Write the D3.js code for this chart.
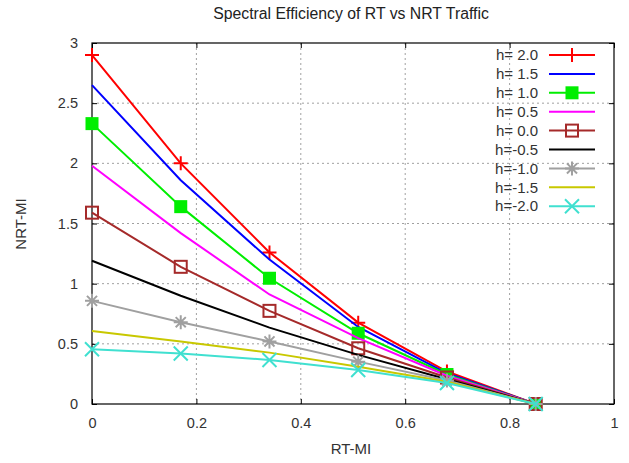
<!DOCTYPE html>
<html>
<head>
<meta charset="utf-8">
<script src="https://cdn.jsdelivr.net/npm/d3@7"></script>
<style>
  body { margin: 0; background: #fff; }
  text { font-family: "Liberation Sans", Arial, sans-serif; }
</style>
</head>
<body>
<div id="chart"></div>
<script>
// RT-MI sample points
const rtMI = [0, 0.17, 0.34, 0.51, 0.68, 0.85];

// NRT-MI per h value
const hLabels = ["h= 2.0", "h= 1.5", "h= 1.0", "h= 0.5", "h= 0.0", "h=-0.5", "h=-1.0", "h=-1.5", "h=-2.0"];
const h20 = [2.90, 2.00, 1.26, 0.676, 0.27, 0];
const h15 = [2.65, 1.86, 1.20, 0.64, 0.255, 0];
const h10 = [2.33, 1.64, 1.045, 0.588, 0.245, 0];
const h05 = [1.98, 1.42, 0.91, 0.547, 0.235, 0];
const h00 = [1.59, 1.14, 0.774, 0.463, 0.22, 0];
const hm05 = [1.19, 0.90, 0.635, 0.408, 0.205, 0];
const hm10 = [0.857, 0.68, 0.52, 0.352, 0.195, 0];
const hm15 = [0.607, 0.52, 0.427, 0.31, 0.185, 0];
const hm20 = [0.455, 0.42, 0.366, 0.283, 0.175, 0];

const colors = ["#ff0000", "#0000ff", "#00ee00", "#ff00ff", "#a52a2a", "#000000", "#a0a0a0", "#c8c800", "#40e0d0"];
const markers = ["plus", null, "fsquare", null, "square", null, "star", null, "cross"];

const xTicks = [0, 0.2, 0.4, 0.6, 0.8, 1];
const yTicks = [0, 0.5, 1, 1.5, 2, 2.5, 3];

const series = [h20, h15, h10, h05, h00, hm05, hm10, hm15, hm20].map((vals, i) => ({
  label: hLabels[i], color: colors[i], marker: markers[i],
  points: vals.map((v, j) => ({ x: rtMI[j], y: v }))
}));

const W = 629, H = 463;
const margin = { top: 43, right: 15, bottom: 59, left: 92 };
const width = W - margin.left - margin.right;
const height = H - margin.top - margin.bottom;

const svg = d3.select("#chart").append("svg")
  .attr("width", W).attr("height", H);

const g = svg.append("g")
  .attr("transform", "translate(" + margin.left + "," + margin.top + ")");

const x = d3.scaleLinear().domain([0, 1]).range([0, width]);
const y = d3.scaleLinear().domain([0, 3]).range([height, 0]);

// grid
g.selectAll(".vgrid").data(xTicks.slice(1, -1)).enter().append("line")
  .attr("x1", d => x(d)).attr("x2", d => x(d))
  .attr("y1", 0).attr("y2", height)
  .attr("stroke", "#a0a0a0").attr("stroke-width", 1).attr("stroke-dasharray", "2,3");
g.selectAll(".hgrid").data(yTicks.slice(1, -1)).enter().append("line")
  .attr("x1", 0).attr("x2", width)
  .attr("y1", d => y(d)).attr("y2", d => y(d))
  .attr("stroke", "#a0a0a0").attr("stroke-width", 1).attr("stroke-dasharray", "2,3");

// axes (ticks inside, mirrored)
const axisStyle = sel => {
  sel.select(".domain").remove();
  sel.selectAll("line").attr("stroke", "#000");
  sel.selectAll("text").attr("fill", "#333").style("font-size", "14.5px");
};
g.append("g").attr("transform", "translate(0," + height + ")")
  .call(d3.axisBottom(x).tickValues(xTicks).tickFormat(d3.format("")).tickSizeInner(-5).tickPadding(14))
  .call(axisStyle);
g.append("g")
  .call(d3.axisLeft(y).tickValues(yTicks).tickFormat(d3.format("")).tickSizeInner(-5).tickPadding(14))
  .call(axisStyle);
g.append("g")
  .call(d3.axisTop(x).tickValues(xTicks).tickFormat("").tickSizeInner(-5))
  .call(axisStyle);
g.append("g").attr("transform", "translate(" + width + ",0)")
  .call(d3.axisRight(y).tickValues(yTicks).tickFormat("").tickSizeInner(-5))
  .call(axisStyle);

g.append("rect").attr("width", width).attr("height", height)
  .attr("fill", "none").attr("stroke", "#000").attr("stroke-width", 1.2);

// marker drawing
function drawMarker(sel, type, color, cx, cy) {
  const s = 7;
  if (type === "plus") {
    sel.append("path").attr("d", `M${cx - s},${cy}H${cx + s}M${cx},${cy - s}V${cy + s}`)
      .attr("stroke", color).attr("stroke-width", 2).attr("fill", "none");
  } else if (type === "fsquare") {
    sel.append("rect").attr("x", cx - 6.5).attr("y", cy - 6.5).attr("width", 13).attr("height", 13)
      .attr("fill", color);
  } else if (type === "square") {
    sel.append("rect").attr("x", cx - 6).attr("y", cy - 6).attr("width", 12).attr("height", 12)
      .attr("fill", "none").attr("stroke", color).attr("stroke-width", 2);
  } else if (type === "star") {
    const d = s * 0.72;
    sel.append("path").attr("d", `M${cx - s},${cy}H${cx + s}M${cx},${cy - s}V${cy + s}M${cx - d},${cy - d}L${cx + d},${cy + d}M${cx - d},${cy + d}L${cx + d},${cy - d}`)
      .attr("stroke", color).attr("stroke-width", 2).attr("fill", "none");
  } else if (type === "cross") {
    sel.append("path").attr("d", `M${cx - s},${cy - s}L${cx + s},${cy + s}M${cx - s},${cy + s}L${cx + s},${cy - s}`)
      .attr("stroke", color).attr("stroke-width", 2).attr("fill", "none");
  }
}

const line = d3.line().x(d => x(d.x)).y(d => y(d.y));

series.forEach(s => {
  const sg = g.append("g");
  sg.append("path").datum(s.points).attr("d", line)
    .attr("fill", "none").attr("stroke", s.color).attr("stroke-width", 2);
  if (s.marker) s.points.forEach(p => drawMarker(sg, s.marker, s.color, x(p.x), y(p.y)));
});

// legend
const legend = svg.append("g").attr("transform", "translate(538,55)");
series.forEach((s, i) => {
  const ly = i * 18.9;
  legend.append("text").attr("x", 0).attr("y", ly).attr("dy", "0.35em")
    .attr("text-anchor", "end").attr("fill", "#333").style("font-size", "15px").text(s.label);
  legend.append("line").attr("x1", 11).attr("x2", 57).attr("y1", ly).attr("y2", ly)
    .attr("stroke", s.color).attr("stroke-width", 2);
  if (s.marker) drawMarker(legend, s.marker, s.color, 34, ly);
});

// title and axis labels
svg.append("text").attr("x", 351).attr("y", 19).attr("text-anchor", "middle")
  .attr("fill", "#222").style("font-size", "15.8px").text("Spectral Efficiency of RT vs NRT Traffic");
svg.append("text").attr("x", 351).attr("y", 454).attr("text-anchor", "middle")
  .attr("fill", "#333").style("font-size", "15px").text("RT-MI");
svg.append("text").attr("transform", "translate(26,224) rotate(-90)").attr("text-anchor", "middle")
  .attr("fill", "#333").style("font-size", "15px").text("NRT-MI");
</script>
</body>
</html>
